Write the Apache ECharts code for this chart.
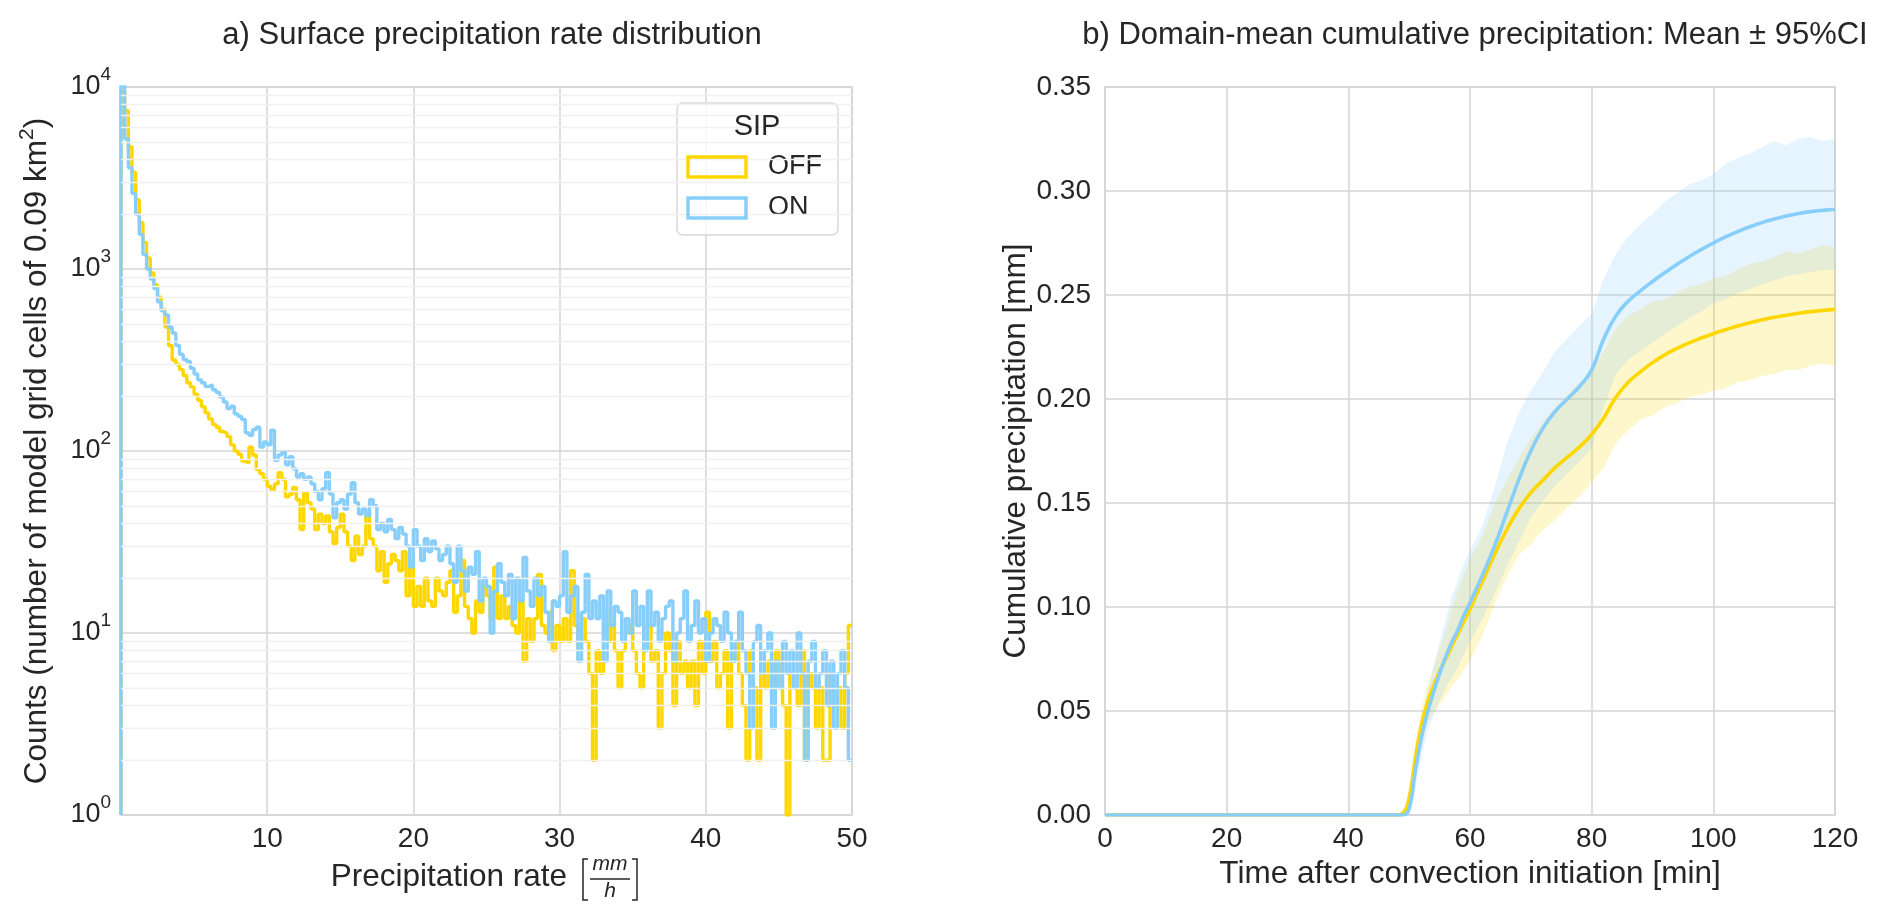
<!DOCTYPE html>
<html>
<head>
<meta charset="utf-8">
<script src="https://cdn.jsdelivr.net/npm/echarts/dist/echarts.min.js"></script>
<style>
  html, body { margin: 0; padding: 0; background: #ffffff; }
  #chart { width: 1892px; height: 920px; }
</style>
</head>
<body>
<div id="chart"></div>
<script>
// ---------------- Panel a: histogram of surface precipitation rate ----------------
const BIN_WIDTH = 0.25; // mm/h, bins from 0 to 50
const countsOff = [
  9500, 7400, 4700, 3400, 2400, 1800, 1400, 1150, 950, 820,
  700, 600, 480, 380, 316, 300, 280, 260, 237, 225,
  205, 190, 175, 162, 150, 140, 135, 128, 125, 120,
  108, 100, 96, 88, 86, 105, 95, 79, 75, 70,
  64, 61, 66, 76, 70, 56, 58, 63, 54, 37,
  59, 52, 48, 37, 45, 40, 44, 36, 31, 38,
  45, 36, 30, 25, 34, 27, 30, 45, 33, 30,
  22, 28, 19, 24, 27, 25, 22, 28, 16, 24,
  14, 18, 14, 20, 15, 14, 20, 17, 16, 19,
  22, 13, 16, 25, 14, 12, 10, 15, 13, 18,
  16, 12, 23, 12, 16, 12, 14, 11, 10, 15,
  7, 12, 9, 12, 21, 11, 10, 13, 8, 11,
  9, 12, 9, 22, 11, 8, 12, 9, 6, 2,
  8, 6, 13, 9, 11, 8, 5, 8, 10, 11,
  8, 6, 5, 9, 11, 7, 8, 3, 6, 10,
  8, 4, 9, 6, 7, 5, 7, 4, 9, 6,
  13, 7, 9, 5, 6, 8, 3, 7, 9, 6,
  4, 2, 8, 5, 2, 6, 5, 7, 4, 8,
  5, 4, 1, 6, 5, 4, 8, 2, 6, 5,
  3, 5, 2, 2, 6, 4, 5, 3, 6, 11
];
const countsOn = [
  10800, 5200, 3600, 2600, 2000, 1550, 1200, 1000, 880, 780,
  660, 590, 560, 480, 445, 380, 340, 318, 310, 285,
  265, 246, 237, 226, 231, 217, 210, 198, 186, 171,
  176, 160, 155, 149, 126, 122, 131, 135, 105, 112,
  108, 130, 89, 95, 98, 84, 93, 80, 72, 75,
  70, 72, 66, 60, 54, 62, 76, 58, 43, 52,
  54, 48, 58, 67, 52, 45, 48, 44, 54, 50,
  37, 40, 36, 42, 37, 33, 38, 35, 30, 23,
  37, 30, 25, 33, 28, 32, 29, 25, 27, 30,
  24, 19, 30, 22, 17, 23, 21, 28, 15, 20,
  18, 10, 17, 24, 19, 16, 21, 12, 20, 15,
  26, 17, 14, 20, 16, 18, 13, 9, 15, 14,
  16, 28, 13, 16, 18, 7, 13, 21, 12, 15,
  12, 16, 7, 17, 11, 14, 13, 9, 12, 10,
  17, 11, 14, 8, 17, 11, 13, 9, 12, 14,
  15, 7, 10, 12, 17, 9, 11, 15, 10, 12,
  7, 10, 12, 11, 9, 13, 10, 7, 9, 13,
  8, 6, 3, 9, 11, 6, 8, 10, 3, 7,
  5, 9, 6, 8, 5, 10, 6, 2, 7, 9,
  5, 6, 8, 4, 7, 3, 6, 8, 5, 2
];
const xTicksA = [0, 10, 20, 30, 40, 50];
const yDecadesA = [1, 10, 100, 1000, 10000];

// ---------------- Panel b: domain-mean cumulative precipitation ----------------
const timeMin = [0, 48, 49, 50, 51, 52, 53, 54, 55, 56, 57, 58, 59, 60,
  62, 64, 66, 68, 70, 72, 74, 76, 78, 80, 82, 84, 86, 88, 90, 92, 94, 96, 98, 100,
  102, 104, 106, 108, 110, 112, 114, 116, 118, 120];
const meanOff = [0, 0, 0.001, 0.008, 0.027, 0.043, 0.054, 0.062, 0.069, 0.075, 0.081, 0.087, 0.093, 0.099,
  0.112, 0.125, 0.137, 0.147, 0.155, 0.161, 0.167, 0.172, 0.177, 0.183, 0.191, 0.201, 0.208, 0.213, 0.2175, 0.2212, 0.2243, 0.2270, 0.2293, 0.2314,
  0.2333, 0.2351, 0.2367, 0.2381, 0.2393, 0.2403, 0.2412, 0.2420, 0.2426, 0.2431];
const lowOff = [0, 0, 0, 0.004, 0.020, 0.034, 0.044, 0.049, 0.053, 0.057, 0.062, 0.065, 0.070, 0.074,
  0.086, 0.101, 0.114, 0.125, 0.130, 0.137, 0.142, 0.148, 0.153, 0.160, 0.167, 0.179, 0.185, 0.190, 0.192, 0.196, 0.198, 0.201, 0.202, 0.204,
  0.205, 0.208, 0.209, 0.211, 0.212, 0.214, 0.214, 0.216, 0.217, 0.216];
const highOff = [0, 0, 0.001, 0.013, 0.034, 0.051, 0.062, 0.071, 0.080, 0.089, 0.099, 0.108, 0.116, 0.123,
  0.134, 0.149, 0.161, 0.171, 0.181, 0.189, 0.196, 0.202, 0.208, 0.213, 0.223, 0.234, 0.240, 0.243, 0.247, 0.248, 0.251, 0.254, 0.255, 0.258,
  0.259, 0.262, 0.265, 0.266, 0.268, 0.271, 0.270, 0.272, 0.274, 0.273];
const meanOn = [0, 0, 0, 0.003, 0.021, 0.037, 0.049, 0.059, 0.068, 0.076, 0.083, 0.089, 0.096, 0.102,
  0.115, 0.129, 0.145, 0.161, 0.175, 0.186, 0.194, 0.200, 0.206, 0.214, 0.229, 0.240, 0.247, 0.252, 0.2565, 0.2607, 0.2647, 0.2684, 0.2718, 0.2750,
  0.2779, 0.2805, 0.2828, 0.2848, 0.2865, 0.2880, 0.2892, 0.2901, 0.2907, 0.2911];
const lowOn = [0, 0, 0, 0, 0.013, 0.028, 0.040, 0.048, 0.055, 0.061, 0.066, 0.071, 0.077, 0.083,
  0.094, 0.106, 0.119, 0.131, 0.143, 0.151, 0.158, 0.164, 0.170, 0.176, 0.196, 0.212, 0.219, 0.223, 0.227, 0.231, 0.235, 0.239, 0.242, 0.246,
  0.248, 0.251, 0.253, 0.255, 0.257, 0.259, 0.260, 0.261, 0.262, 0.262];
const highOn = [0, 0, 0, 0.007, 0.029, 0.046, 0.059, 0.071, 0.083, 0.094, 0.105, 0.113, 0.121, 0.127,
  0.139, 0.157, 0.178, 0.193, 0.204, 0.213, 0.223, 0.229, 0.235, 0.241, 0.258, 0.270, 0.278, 0.284, 0.289, 0.295, 0.299, 0.303, 0.305, 0.308,
  0.313, 0.316, 0.318, 0.321, 0.324, 0.322, 0.325, 0.326, 0.324, 0.325];

// ---------------- styling ----------------
const YELLOW = '#FFD700';
const BLUE = '#87CEFA';
const TXT = '#262626';
const GRIDC = '#d4d4d4';
const FONT = '"Liberation Sans", Arial, Helvetica, sans-serif';

function stepSeriesData(counts) {
  const d = [[0, 1]];
  counts.forEach((c, i) => d.push([i * BIN_WIDTH, c]));
  d.push([counts.length * BIN_WIDTH, counts[counts.length - 1]]);
  return d;
}
function pairs(xs, ys) { return xs.map((x, i) => [x, ys[i]]); }

function bandRenderer(times, lo, hi, fill) {
  return function (params, api) {
    const pts = [];
    for (let i = 0; i < times.length; i++) pts.push(api.coord([times[i], hi[i]]));
    for (let i = times.length - 1; i >= 0; i--) pts.push(api.coord([times[i], lo[i]]));
    return { type: 'polygon', shape: { points: pts }, style: { fill: fill, stroke: null } };
  };
}

const minorLogValues = [];
for (let k = 0; k < yDecadesA.length - 1; k++) {
  for (let m = 2; m <= 9; m++) minorLogValues.push(m * yDecadesA[k]);
}

const chart = echarts.init(document.getElementById('chart'), null, { renderer: 'canvas' });

const option = {
  backgroundColor: '#ffffff',
  textStyle: { fontFamily: FONT, color: TXT },
  animation: false,
  title: [
    { text: 'a) Surface precipitation rate distribution', left: 487, top: 15, textAlign: 'center',
      textStyle: { fontSize: 31, fontWeight: 'normal', color: TXT, fontFamily: FONT } },
    { text: 'b) Domain-mean cumulative precipitation: Mean \u00b1 95%CI', left: 1470, top: 15, textAlign: 'center',
      textStyle: { fontSize: 31, fontWeight: 'normal', color: TXT, fontFamily: FONT } }
  ],
  legend: {
    orient: 'vertical',
    left: 677, top: 103,
    padding: [49, 16, 12, 10],
    itemWidth: 58, itemHeight: 20, itemGap: 11,
    backgroundColor: 'rgba(255,255,255,0.8)',
    borderColor: '#d9d9d9', borderWidth: 1.5, borderRadius: 6,
    textStyle: { fontSize: 27, color: TXT, fontFamily: FONT, lineHeight: 30, padding: [0, 0, 0, 18] },
    selectedMode: false,
    data: [
      { name: 'OFF', icon: 'rect', itemStyle: { color: 'rgba(255,255,255,0)', borderWidth: 0 } },
      { name: 'ON', icon: 'rect', itemStyle: { color: 'rgba(255,255,255,0)', borderWidth: 0 } }
    ]
  },
  grid: [
    { left: 121, top: 87, width: 731, height: 728, show: true, borderColor: GRIDC, borderWidth: 1.6, backgroundColor: 'transparent' },
    { left: 1105, top: 87, width: 730, height: 728, show: true, borderColor: GRIDC, borderWidth: 1.6, backgroundColor: 'transparent' }
  ],
  xAxis: [
    { type: 'value', gridIndex: 0, min: xTicksA[0], max: xTicksA[xTicksA.length - 1], interval: 10,
      axisLine: { show: false }, axisTick: { show: false },
      splitLine: { show: true, lineStyle: { color: GRIDC, width: 1.5 } },
      axisLabel: { fontSize: 28, color: TXT, fontFamily: FONT, margin: 10,
        formatter: v => (v === 0 ? '' : String(v)) } },
    { type: 'value', gridIndex: 1, min: 0, max: 120, interval: 20,
      axisLine: { show: false }, axisTick: { show: false },
      splitLine: { show: true, lineStyle: { color: GRIDC, width: 1.5 } },
      axisLabel: { fontSize: 28, color: TXT, fontFamily: FONT, margin: 10 },
      name: 'Time after convection initiation [min]', nameLocation: 'middle', nameGap: 42,
      nameTextStyle: { fontSize: 31.5, color: TXT, fontFamily: FONT } }
  ],
  yAxis: [
    { type: 'log', gridIndex: 0, min: yDecadesA[0], max: yDecadesA[yDecadesA.length - 1], logBase: 10,
      axisLine: { show: false }, axisTick: { show: false },
      splitLine: { show: true, lineStyle: { color: GRIDC, width: 1.5 } },
      axisLabel: { margin: 10, color: TXT, fontFamily: FONT,
        formatter: v => '{b|10}{s|' + Math.round(Math.log10(v)) + '}',
        rich: {
          b: { fontSize: 27, lineHeight: 44, color: TXT, fontFamily: FONT },
          s: { fontSize: 19, lineHeight: 19, verticalAlign: 'top', color: TXT, fontFamily: FONT }
        } },
      name: 'Counts (number of model grid cells of 0.09 km{s|2})', nameLocation: 'middle', nameGap: 64, nameRotate: 90,
      nameTextStyle: { fontSize: 31.5, color: TXT, fontFamily: FONT, lineHeight: 40,
        rich: { s: { fontSize: 21, lineHeight: 21, verticalAlign: 'top', color: TXT, fontFamily: FONT } } } },
    { type: 'value', gridIndex: 1, min: 0, max: 0.35, interval: 0.05,
      axisLine: { show: false }, axisTick: { show: false },
      splitLine: { show: true, lineStyle: { color: GRIDC, width: 1.5 } },
      axisLabel: { fontSize: 28, color: TXT, fontFamily: FONT, margin: 14, formatter: v => v.toFixed(2) },
      name: 'Cumulative precipitation [mm]', nameLocation: 'middle', nameGap: 72, nameRotate: 90,
      nameTextStyle: { fontSize: 31.5, color: TXT, fontFamily: FONT } }
  ],
  graphic: [
    { type: 'text', x: 567, y: 877, z: 10,
      style: { text: 'Precipitation rate', fontSize: 31.5, fill: TXT, fontFamily: FONT, align: 'right', verticalAlign: 'middle' } },
    { type: 'polyline', z: 10, shape: { points: [[588, 859], [583, 859], [583, 900], [588, 900]] },
      style: { stroke: TXT, lineWidth: 1.5, fill: null } },
    { type: 'polyline', z: 10, shape: { points: [[632, 859], [637, 859], [637, 900], [632, 900]] },
      style: { stroke: TXT, lineWidth: 1.5, fill: null } },
    { type: 'text', x: 610, y: 875, z: 10,
      style: { text: 'mm', fontSize: 21, fontStyle: 'italic', fill: TXT, fontFamily: FONT, align: 'center', verticalAlign: 'bottom' } },
    { type: 'line', z: 10, shape: { x1: 590, y1: 879, x2: 630, y2: 879 }, style: { stroke: TXT, lineWidth: 1.5 } },
    { type: 'text', x: 610, y: 881, z: 10,
      style: { text: 'h', fontSize: 21, fontStyle: 'italic', fill: TXT, fontFamily: FONT, align: 'center', verticalAlign: 'top' } },
    { type: 'text', x: 757, y: 127, z: 100,
      style: { text: 'SIP', fontSize: 29, fill: TXT, fontFamily: FONT, align: 'center', verticalAlign: 'middle' } },
    // legend key patches (outlined rectangles, as in a step-histogram legend)
    { type: 'rect', z: 100, shape: { x: 688, y: 157, width: 58, height: 20 },
      style: { fill: 'rgba(255,255,255,0)', stroke: YELLOW, lineWidth: 3.5 } },
    { type: 'rect', z: 100, shape: { x: 688, y: 198, width: 58, height: 20 },
      style: { fill: 'rgba(255,255,255,0)', stroke: BLUE, lineWidth: 3.5 } }
  ],
  series: [
    { name: 'minor', type: 'line', xAxisIndex: 0, yAxisIndex: 0, data: [], silent: true, z: 1,
      markLine: { silent: true, symbol: 'none', label: { show: false },
        lineStyle: { color: '#f0f0f0', width: 1.3, type: 'solid' },
        data: minorLogValues.map(v => ({ yAxis: v })) } },
    { name: 'OFF', type: 'line', xAxisIndex: 0, yAxisIndex: 0, step: 'end', showSymbol: false, symbol: 'none',
      data: stepSeriesData(countsOff), z: 3, itemStyle: { color: YELLOW },
      lineStyle: { color: YELLOW, width: 3.4 } },
    { name: 'ON', type: 'line', xAxisIndex: 0, yAxisIndex: 0, step: 'end', showSymbol: false, symbol: 'none',
      data: stepSeriesData(countsOn), z: 4, itemStyle: { color: BLUE },
      lineStyle: { color: BLUE, width: 3.4 } },

    { name: 'offBand', type: 'custom', xAxisIndex: 1, yAxisIndex: 1, silent: true, z: 2,
      data: [[timeMin[0], lowOff[0]]],
      renderItem: bandRenderer(timeMin, lowOff, highOff, 'rgba(255,215,0,0.2)') },
    { name: 'onBand', type: 'custom', xAxisIndex: 1, yAxisIndex: 1, silent: true, z: 2,
      data: [[timeMin[0], lowOn[0]]],
      renderItem: bandRenderer(timeMin, lowOn, highOn, 'rgba(135,206,250,0.22)') },
    { name: 'offMean', type: 'line', xAxisIndex: 1, yAxisIndex: 1, symbol: 'none', smooth: 0.5,
      data: pairs(timeMin, meanOff), lineStyle: { color: YELLOW, width: 3.6 }, z: 3 },
    { name: 'onMean', type: 'line', xAxisIndex: 1, yAxisIndex: 1, symbol: 'none', smooth: 0.5,
      data: pairs(timeMin, meanOn), lineStyle: { color: BLUE, width: 3.6 }, z: 4 }
  ]
};
chart.setOption(option);
</script>
</body>
</html>
